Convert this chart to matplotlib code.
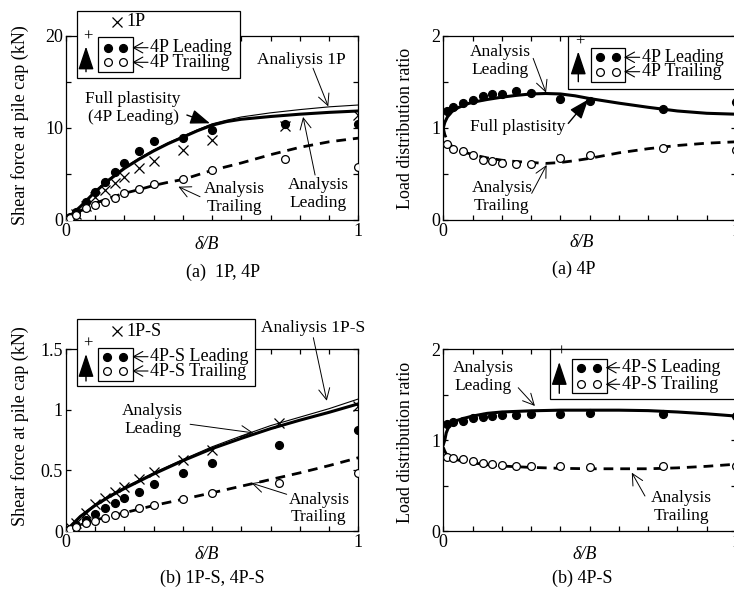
import numpy as np
import matplotlib.pyplot as plt
from matplotlib.patches import Rectangle

plt.rcParams['font.family'] = ['Liberation Serif', 'DejaVu Serif']
plt.rcParams['font.size'] = 13

W, H = 734, 592

# ---- measured points (delta/B) ----
x_pts = [0, 0.014, 0.034, 0.068, 0.1, 0.134, 0.167, 0.2, 0.25, 0.3, 0.4, 0.5, 0.75, 1.0]
x_pts_s = [0, 0.014, 0.034, 0.068, 0.1, 0.134, 0.167, 0.2, 0.25, 0.3, 0.4, 0.5, 0.73, 1.0]
x_ratio = [0.014, 0.034, 0.068, 0.1, 0.134, 0.167, 0.2, 0.25, 0.3, 0.4, 0.5, 0.75, 1.0]

# (a) shear force, kN
f_1p = [0, 0.2, 0.6, 1.5, 2.5, 3.26, 3.99, 4.7, 5.6, 6.45, 7.6, 8.7, 10.2, 11.4]
f_4p_lead = [0, 0.35, 0.9, 2.0, 3.0, 4.1, 5.2, 6.2, 7.5, 8.6, 8.95, 9.8, 10.45, 10.45]
f_4p_trail = [0, 0.25, 0.55, 1.27, 1.63, 2.0, 2.36, 2.9, 3.33, 3.88, 4.46, 5.43, 6.63, 5.8]

# (b) shear force, kN
f_1ps = [0, 0.03, 0.07, 0.15, 0.22, 0.27, 0.32, 0.36, 0.43, 0.49, 0.59, 0.67, 0.89, 1.03]
f_4ps_lead = [0, 0.02, 0.05, 0.09, 0.14, 0.187, 0.228, 0.27, 0.325, 0.385, 0.476, 0.564, 0.71, 0.834]
f_4ps_trail = [0, 0.015, 0.036, 0.063, 0.085, 0.105, 0.132, 0.151, 0.187, 0.215, 0.267, 0.311, 0.40, 0.48]

# load distribution ratio
r_4p_lead = [1.18, 1.23, 1.27, 1.30, 1.35, 1.37, 1.37, 1.40, 1.38, 1.32, 1.29, 1.21, 1.285]
r_4p_trail = [0.83, 0.77, 0.75, 0.71, 0.655, 0.64, 0.625, 0.61, 0.613, 0.67, 0.71, 0.78, 0.76]
r_4ps_lead = [1.18, 1.20, 1.21, 1.24, 1.255, 1.265, 1.275, 1.275, 1.285, 1.285, 1.295, 1.285, 1.27]
r_4ps_trail = [0.82, 0.80, 0.79, 0.765, 0.75, 0.74, 0.73, 0.72, 0.715, 0.71, 0.70, 0.71, 0.72]

# ---- analysis curves ----
xa = [0, 0.05, 0.1, 0.15, 0.2, 0.25, 0.3, 0.35, 0.4, 0.45, 0.5, 0.55, 0.6, 0.7, 0.8, 0.9, 1.0]
fa_1p = [0, 1.5, 3.1, 4.5, 5.7, 6.7, 7.6, 8.4, 9.1, 9.8, 10.45, 10.85, 11.2, 11.65, 12.0, 12.3, 12.5]
fa_lead = [0, 1.45, 3.05, 4.4, 5.6, 6.6, 7.5, 8.3, 9.0, 9.7, 10.3, 10.7, 10.95, 11.25, 11.5, 11.7, 11.85]
fa_trail = [0, 1.0, 1.8, 2.4, 2.9, 3.3, 3.75, 4.1, 4.4, 4.9, 5.4, 5.8, 6.2, 7.1, 7.9, 8.5, 8.9]

xb = [0, 0.05, 0.1, 0.15, 0.2, 0.25, 0.3, 0.4, 0.5, 0.6, 0.7, 0.8, 0.9, 1.0]
fb_1ps = [0, 0.125, 0.22, 0.295, 0.36, 0.42, 0.48, 0.59, 0.695, 0.785, 0.87, 0.94, 1.01, 1.09]
fb_lead = [0, 0.12, 0.21, 0.285, 0.35, 0.41, 0.47, 0.58, 0.68, 0.765, 0.845, 0.915, 0.98, 1.05]
fb_trail = [0, 0.05, 0.09, 0.12, 0.15, 0.18, 0.21, 0.262, 0.315, 0.37, 0.425, 0.48, 0.54, 0.605]

xr = [0, 0.005, 0.014, 0.03, 0.05, 0.08, 0.1, 0.15, 0.2, 0.25, 0.3, 0.35, 0.4, 0.45, 0.5, 0.6, 0.7, 0.8, 0.9, 1.0]
ra_lead = [1.0, 1.06, 1.12, 1.18, 1.22, 1.26, 1.28, 1.31, 1.335, 1.355, 1.37, 1.375, 1.37, 1.35, 1.32, 1.27, 1.225, 1.185, 1.16, 1.15]
ra_trail = [1.0, 0.93, 0.86, 0.80, 0.76, 0.73, 0.71, 0.675, 0.65, 0.635, 0.625, 0.615, 0.625, 0.645, 0.67, 0.73, 0.775, 0.81, 0.835, 0.85]

xs = [0, 0.005, 0.01, 0.02, 0.04, 0.07, 0.1, 0.15, 0.2, 0.3, 0.4, 0.5, 0.6, 0.7, 0.8, 0.9, 1.0]
rs_lead = [0.95, 1.0, 1.08, 1.16, 1.21, 1.24, 1.265, 1.295, 1.31, 1.323, 1.33, 1.33, 1.33, 1.325, 1.31, 1.29, 1.265]
rs_trail = [0.92, 0.88, 0.85, 0.82, 0.79, 0.765, 0.75, 0.73, 0.715, 0.70, 0.69, 0.685, 0.685, 0.685, 0.695, 0.712, 0.735]

THICK = 2.2
THIN = 0.8
DASH = (0, (3.5, 2.5))
MS = 5.6


def style_axes(ax, ymax, ystep, ylabels):
    ax.set_xlim(0, 1)
    ax.set_ylim(0, ymax)
    xt = np.round(np.arange(0, 1.0001, 0.1), 2)
    ax.set_xticks(xt)
    ax.set_xticklabels(['0'] + [''] * 9 + ['1'])
    yt = np.round(np.arange(0, ymax + 1e-9, ystep), 3)
    ax.set_yticks(yt)
    ax.set_yticklabels(ylabels)
    ax.tick_params(direction='in', top=True, right=True, length=3.6, width=0.9,
                   pad=2, labelsize=13)
    for s in ax.spines.values():
        s.set_linewidth(0.9)


def arrow(ax, tail, tip, big=False):
    if big:
        props = dict(arrowstyle='-|>,head_length=0.8,head_width=0.3', lw=1.0,
                     color='k', mutation_scale=15, shrinkA=0, shrinkB=0)
    else:
        props = dict(arrowstyle='->,head_length=0.5,head_width=0.25', lw=0.7,
                     color='k', mutation_scale=16, shrinkA=0, shrinkB=0)
    ax.annotate('', xy=tip, xytext=tail, arrowprops=props, annotation_clip=False)


def note(ax, x, y, s):
    ax.text(x, y, s, ha='center', va='center', fontsize=12.5, linespacing=1.15)


fig = plt.figure(figsize=(W / 100, H / 100), dpi=100)
ax1 = fig.add_axes([65.7 / W, 1 - 220 / H, 292.7 / W, 184 / H])
ax2 = fig.add_axes([443.3 / W, 1 - 220 / H, 292.7 / W, 184 / H])
ax3 = fig.add_axes([65.7 / W, 1 - 531 / H, 292.7 / W, 181.7 / H])
ax4 = fig.add_axes([443.3 / W, 1 - 531 / H, 292.7 / W, 181.7 / H])

# ---- (a) 1P, 4P shear force ----
ax1.plot(xa, fa_1p, color='k', lw=THIN, zorder=3)
ax1.plot(xa, fa_lead, color='k', lw=THICK, zorder=3)
ax1.plot(xa, fa_trail, color='k', lw=2.0, ls=DASH, zorder=3)
ax1.plot(x_pts, f_1p, 'x', color='k', ms=6.5, mew=0.9, zorder=4)
ax1.plot(x_pts, f_4p_lead, 'o', color='k', ms=MS, zorder=5)
ax1.plot(x_pts, f_4p_trail, 'o', mfc='white', mec='k', ms=MS, mew=0.9, zorder=5)
style_axes(ax1, 20, 5, ['0', '', '10', '', '20'])

note(ax1, 0.805, 17.39, 'Analiysis 1P')
arrow(ax1, (0.845, 16.5), (0.897, 12.35))
note(ax1, 0.23, 12.14, 'Full plastisity\n(4P Leading)')
arrow(ax1, (0.414, 11.41), (0.493, 10.51), big=True)
note(ax1, 0.575, 2.36, 'Analysis\nTrailing')
arrow(ax1, (0.459, 2.53), (0.385, 3.62))
note(ax1, 0.863, 2.83, 'Analysis\nLeading')
arrow(ax1, (0.852, 4.89), (0.811, 11.2))

# ---- (a) 4P load distribution ----
ax2.plot(xr, ra_lead, color='k', lw=THICK, zorder=3)
ax2.plot(xr, ra_trail, color='k', lw=2.0, ls=DASH, zorder=3)
ax2.plot(x_ratio, r_4p_lead, 'o', color='k', ms=MS, zorder=5)
ax2.plot(x_ratio, r_4p_trail, 'o', mfc='white', mec='k', ms=MS, mew=0.9, zorder=5)
style_axes(ax2, 2, 0.5, ['0', '', '1', '', '2'])

note(ax2, 0.194, 1.73, 'Analysis\nLeading')
arrow(ax2, (0.307, 1.757), (0.351, 1.384))
note(ax2, 0.253, 1.014, 'Full plastisity')
arrow(ax2, (0.427, 1.05), (0.495, 1.31), big=True)
note(ax2, 0.2, 0.253, 'Analysis\nTrailing')
arrow(ax2, (0.302, 0.29), (0.353, 0.598))

# ---- (b) 1P-S, 4P-S shear force ----
ax3.plot(xb, fb_1ps, color='k', lw=THIN, zorder=3)
ax3.plot(xb, fb_lead, color='k', lw=THICK, zorder=3)
ax3.plot(xb, fb_trail, color='k', lw=2.0, ls=DASH, zorder=3)
ax3.plot(x_pts_s, f_1ps, 'x', color='k', ms=6.5, mew=0.9, zorder=4)
ax3.plot(x_pts_s, f_4ps_lead, 'o', color='k', ms=MS, zorder=5)
ax3.plot(x_pts_s, f_4ps_trail, 'o', mfc='white', mec='k', ms=MS, mew=0.9, zorder=5)
style_axes(ax3, 1.5, 0.5, ['0', '0.5', '1', '1.5'])

note(ax3, 0.846, 1.679, 'Analiysis 1P-S')
arrow(ax3, (0.846, 1.596), (0.892, 1.075))
note(ax3, 0.297, 0.915, 'Analysis\nLeading')
arrow(ax3, (0.425, 0.881), (0.641, 0.81))
note(ax3, 0.865, 0.186, 'Analysis\nTrailing')
arrow(ax3, (0.755, 0.303), (0.635, 0.395))

# ---- (b) 4P-S load distribution ----
ax4.plot(xs, rs_lead, color='k', lw=THICK, zorder=3)
ax4.plot(xs, rs_trail, color='k', lw=2.0, ls=DASH, zorder=3)
ax4.plot(x_ratio, r_4ps_lead, 'o', color='k', ms=MS, zorder=5)
ax4.plot(x_ratio, r_4ps_trail, 'o', mfc='white', mec='k', ms=MS, mew=0.9, zorder=5)
style_axes(ax4, 2, 0.5, ['0', '', '1', '', '2'])

note(ax4, 0.137, 1.697, 'Analysis\nLeading')
arrow(ax4, (0.256, 1.577), (0.313, 1.376))
note(ax4, 0.814, 0.266, 'Analysis\nTrailing')
arrow(ax4, (0.689, 0.385), (0.644, 0.642))

# axis labels
for ax, yl in [(ax1, 0.516), (ax3, 0.578)]:
    ax.set_ylabel('Shear force at pile cap (kN)', fontsize=13)
    ax.yaxis.set_label_coords(-0.125, yl)
for ax, yl in [(ax2, 0.495), (ax4, 0.49)]:
    ax.set_ylabel('Load distribution ratio', fontsize=13)
    ax.yaxis.set_label_coords(-0.10, yl)
for ax, xl, yl in [(ax1, 0.48, -0.085), (ax2, 0.473, -0.078),
                   (ax3, 0.48, -0.08), (ax4, 0.484, -0.08)]:
    ax.set_xlabel('δ/B', fontsize=13, style='italic')
    ax.xaxis.set_label_coords(xl, yl)

# ---- overlay in pixel coordinates for the keys and captions ----
ov = fig.add_axes([0, 0, 1, 1])
ov.set_xlim(0, W)
ov.set_ylim(H, 0)
ov.axis('off')
ov.patch.set_alpha(0)


def key(outer, inner, cols, rows, labels, text_x, up_x, up_y, cross=None):
    x0, y0, x1, y1 = outer
    ov.add_patch(Rectangle((x0, y0), x1 - x0, y1 - y0, fc='white', ec='k', lw=0.9, zorder=1))
    a0, b0, a1, b1 = inner
    ov.add_patch(Rectangle((a0, b0), a1 - a0, b1 - b0, fc='none', ec='k', lw=0.9, zorder=2))
    ov.plot(cols, [rows[0]] * 2, 'o', color='k', ms=MS, zorder=3)
    ov.plot(cols, [rows[1]] * 2, 'o', mfc='white', mec='k', ms=MS, mew=0.9, zorder=3)
    for r, lab in zip(rows, labels):
        ov.annotate('', xy=(a1 - 1, r), xytext=(text_x - 2, r),
                    arrowprops=dict(arrowstyle='->,head_length=0.45,head_width=0.25',
                                    lw=0.8, color='k', mutation_scale=15,
                                    shrinkA=0, shrinkB=0))
        ov.text(text_x, r, lab, ha='left', va='center', fontsize=13)
    ov.annotate('', xy=(up_x, up_y[1]), xytext=(up_x, up_y[0]),
                arrowprops=dict(arrowstyle='-|>,head_length=0.9,head_width=0.3',
                                lw=1.0, color='k', mutation_scale=16,
                                shrinkA=0, shrinkB=0))
    ov.text(up_x + 2, up_y[1] - 10, '+', ha='center', va='center', fontsize=12)
    if cross is not None:
        cx, cy, lab = cross
        ov.plot([cx], [cy], 'x', color='k', ms=6.5, mew=0.9, zorder=3)
        ov.text(cx + 10, cy, lab, ha='left', va='center', fontsize=13)


key((76.7, 10.7, 240, 78.3), (98.3, 37.3, 133.3, 71.7), [108.3, 123.3], [47.7, 62.3],
    ['4P Leading', '4P Trailing'], 150, 86, (71.7, 46.5), cross=(116.7, 21.7, '1P'))
key((568.3, 36, 742, 89.3), (590.7, 47.7, 625, 81.7), [600, 616], [57.3, 71.7],
    ['4P Leading', '4P Trailing'], 641.7, 578.3, (81.7, 51.5))
key((76.7, 318.7, 255, 386), (98.3, 347.7, 133.3, 381), [107.3, 123.3], [356.7, 371],
    ['4P-S Leading', '4P-S Trailing'], 150, 86, (381, 354), cross=(116.7, 331, '1P-S'))
key((550, 349.3, 742, 398.7), (571.7, 358.7, 606.7, 393.3), [581, 596.7], [367.7, 384.3],
    ['4P-S Leading', '4P-S Trailing'], 621.7, 559.3, (393.3, 362))

# captions
for cx, cy, s in [(223, 272, '(a)  1P, 4P'), (574, 269, '(a) 4P'),
                  (212.5, 578.5, '(b) 1P-S, 4P-S'), (582.5, 578.5, '(b) 4P-S')]:
    ov.text(cx, cy, s, ha='center', va='center', fontsize=13)

fig.savefig('out.png', dpi=100)
